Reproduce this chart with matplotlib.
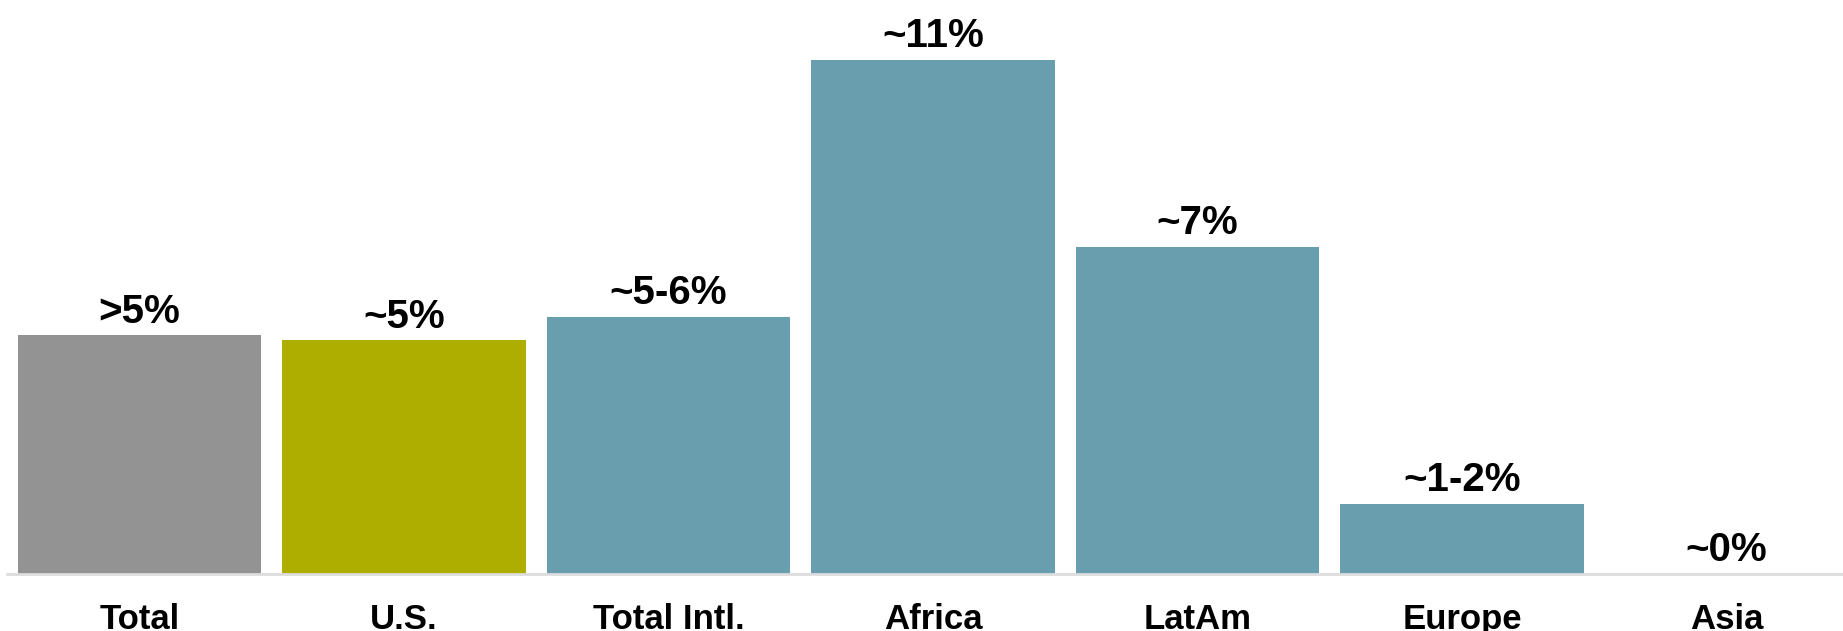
import matplotlib.pyplot as plt

# Chart data
categories = ['Total', 'U.S.', 'Total Intl.', 'Africa', 'LatAm', 'Europe', 'Asia']
values = [5.1, 5.0, 5.5, 11.0, 7.0, 1.5, 0.0]
value_labels = ['>5%', '~5%', '~5-6%', '~11%', '~7%', '~1-2%', '~0%']
colors = ['#939393', '#aeae00', '#689eae', '#689eae', '#689eae', '#689eae', '#689eae']

plt.rcParams['font.family'] = ['Liberation Sans', 'DejaVu Sans']

fig = plt.figure(figsize=(18.43, 6.31), dpi=100)
ax = fig.add_axes([7 / 1843, 0.091, 1 - 7 / 1843, 0.909])

x = range(len(categories))
ax.bar(x, values, width=0.92, color=colors)

# Value labels above bars
for i, (v, lab) in enumerate(zip(values, value_labels)):
  ax.annotate(lab, (i, v), xytext=(0, 9), textcoords='offset points',
              ha='center', va='baseline', fontsize=29, fontweight='bold')

ax.set_xlim(-0.5, 6.44)
ax.set_ylim(0, 12.28)
ax.set_xticks(list(x))
ax.set_xticklabels(categories, fontsize=25, fontweight='bold')
ax.tick_params(axis='x', length=0, pad=21)
ax.set_yticks([])

for side in ['top', 'right', 'left']:
  ax.spines[side].set_visible(False)
ax.spines['bottom'].set_color('#dddddd')
ax.spines['bottom'].set_linewidth(2)

fig.savefig('out.png', dpi=100)
